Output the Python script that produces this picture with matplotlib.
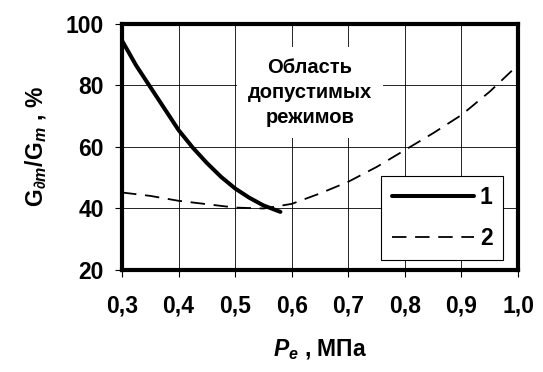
import matplotlib
matplotlib.use("Agg")
import matplotlib.pyplot as plt
import numpy as np

plt.rcParams['font.family'] = ['Liberation Sans', 'DejaVu Sans']
plt.rcParams['font.weight'] = 'bold'
plt.rcParams['axes.labelweight'] = 'bold'
plt.rcParams['mathtext.fontset'] = 'custom'
plt.rcParams['mathtext.rm'] = 'Liberation Sans:bold'
plt.rcParams['mathtext.it'] = 'Liberation Sans:bold:italic'
plt.rcParams['mathtext.bf'] = 'Liberation Sans:bold'

# Series 1 (solid)
x1 = [0.300, 0.325, 0.350, 0.375, 0.400, 0.425, 0.450, 0.475, 0.500, 0.525, 0.550, 0.580]
y1 = [94.6, 86.5, 79.5, 72.5, 65.5, 59.8, 54.8, 50.3, 46.5, 43.5, 41.0, 38.9]
# Series 2 (dashed)
x2 = [0.30, 0.35, 0.40, 0.45, 0.50, 0.55, 0.60, 0.65, 0.70, 0.75, 0.80, 0.85, 0.90, 0.95, 1.00]
y2 = [45.2, 44.1, 42.5, 41.4, 40.3, 40.0, 41.5, 44.9, 48.7, 53.5, 59.0, 64.5, 70.4, 78.0, 86.7]

xticks = [0.3, 0.4, 0.5, 0.6, 0.7, 0.8, 0.9, 1.0]
xticklabels = ['0,3', '0,4', '0,5', '0,6', '0,7', '0,8', '0,9', '1,0']
yticks = [20, 40, 60, 80, 100]
labels = ['1', '2']

fig = plt.figure(figsize=(5.43, 3.72), dpi=100)
ax = fig.add_axes([0.2247, 0.2742, 0.954 - 0.2247, 0.9355 - 0.2742])

ax.plot(x1, y1, color='black', lw=2.9, solid_capstyle='round', solid_joinstyle='round',
        label=labels[0], zorder=4)
ax.plot(x2, y2, color='black', lw=1.3, dashes=(8, 4.8), label=labels[1], zorder=4)

ax.set_xlim(0.3, 1.0)
ax.set_ylim(20, 100)
ax.set_xticks(xticks)
ax.set_xticklabels(xticklabels)
ax.set_yticks(yticks)
ax.grid(True, color='black', lw=0.6)
ax.set_axisbelow(True)
for s in ax.spines.values():
    s.set_linewidth(3.0)
ax.tick_params(axis='both', direction='out', length=5, width=0.8, labelsize=16.5)
ax.tick_params(axis='y', pad=8)
ax.tick_params(axis='x', pad=13)

ax.text(0.632, 77.6, 'Область\nдопустимых\nрежимов', ha='center', va='center',
        fontsize=14.5, fontweight='bold', linespacing=1.4, zorder=3,
        bbox=dict(boxstyle='square,pad=0.55', facecolor='white', edgecolor='none'))

leg = ax.legend(loc='lower right', bbox_to_anchor=(0.962, 0.041), borderaxespad=0,
                frameon=True, fancybox=False, edgecolor='black', framealpha=1,
                fontsize=16.5, handlelength=3.6, handletextpad=0.25, borderpad=0.45,
                labelspacing=0.75)
leg.get_frame().set_linewidth(0.8)

ax.set_ylabel(r'$\mathrm{G}_{\mathit{\partial m}}/\mathrm{G}_{\mathit{m}}$ , %', fontsize=16.5,
              fontweight='bold', labelpad=12)
ax.set_xlabel(r'$\mathit{P}_{\mathit{e}}$ , МПа', fontsize=16.5, fontweight='bold', labelpad=14)

fig.savefig('out.png', dpi=100)
